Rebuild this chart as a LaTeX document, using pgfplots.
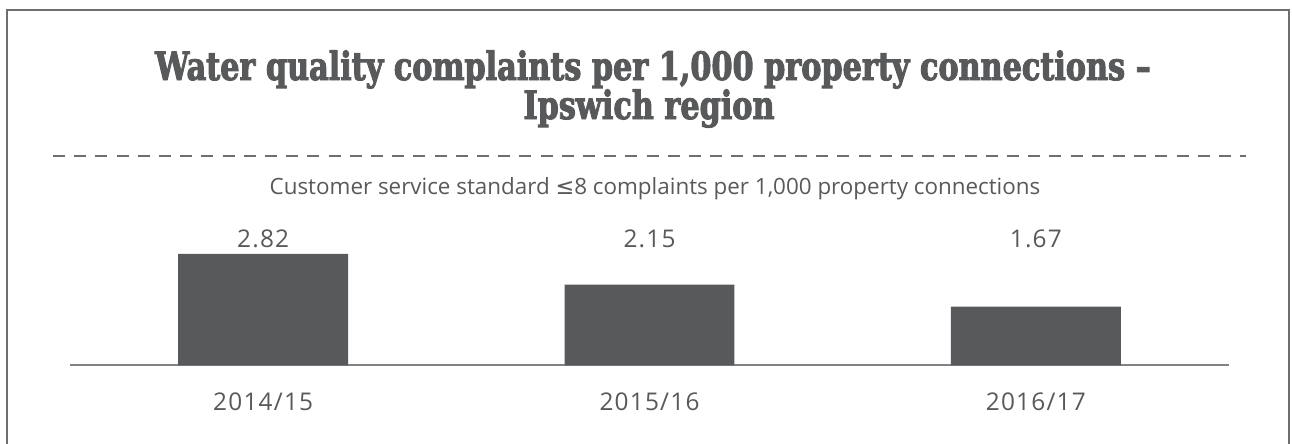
\documentclass[border=0pt]{standalone}
\usepackage{fontspec}
\usepackage{pgfplots}
\pgfplotsset{compat=1.18}
\setmainfont{Open Sans}
\newfontfamily\titlefont{DejaVu Serif}[FakeStretch=0.775,FakeBold=2.5]
\newfontfamily\symfont{DejaVu Sans}
\newfontfamily\numfont{Open Sans}[LetterSpace=5]
\definecolor{txt}{HTML}{58595B}
\definecolor{barC}{HTML}{58595B}
\definecolor{frameC}{HTML}{6D6E70}
\definecolor{baseC}{HTML}{808285}
\newcommand\bodyfont{\fontsize{16.8}{20}\selectfont}
\newcommand\numsfont{\numfont\fontsize{18.3}{22}\selectfont}
\begin{document}
\begin{tikzpicture}[x=0.75pt,y=-0.75pt]
\path[use as bounding box] (0,0) rectangle (1292,443);
\draw[frameC, line width=2pt] (7,450) -- (7,10) -- (1289,10) -- (1289,450);
\node[anchor=base, text=txt, font=\titlefont\bfseries\fontsize{29.3}{34}\selectfont] at (653,80) {Water quality complaints per 1,000 property connections –};
\node[anchor=base, text=txt, font=\titlefont\bfseries\fontsize{29.3}{34}\selectfont] at (649,119) {Ipswich region};
\draw[frameC, line width=2.2pt, dash pattern=on 9pt off 6.9pt] (53,156) -- (1246,156);
\node[text=txt, font=\bodyfont] at (655,189) {Customer service standard {\symfont ≤}8 complaints per 1,000 property connections};
\begin{axis}[
  at={(52.5pt,-273.975pt)}, anchor=south west,
  scale only axis, width=869.25pt, height=83.5pt,
  xmin=-0.5, xmax=2.5, ymin=0.39, ymax=2.82,
  axis x line*=bottom, hide y axis,
  x axis line style={draw=baseC, line width=1.5pt},
  xtick={0,1,2}, xticklabels={2014/15,2015/16,2016/17},
  major tick length=0pt,
  xticklabel style={font=\numsfont, text=txt, anchor=center, yshift=-27pt},
  ytick=\empty,
  /pgf/number format/assume math mode=true,
  ybar, bar width=0.44,
]
\addplot[fill=barC, draw=none,
  visualization depends on={rawy \as \ry},
  nodes near coords,
  nodes near coords style={font=\numsfont, text=txt, anchor=center, yshift={11.25+(2.82-\ry)*34.35}},
] coordinates {(0,2.82) (1,2.15) (2,1.67)};
\end{axis}
\end{tikzpicture}
\end{document}
